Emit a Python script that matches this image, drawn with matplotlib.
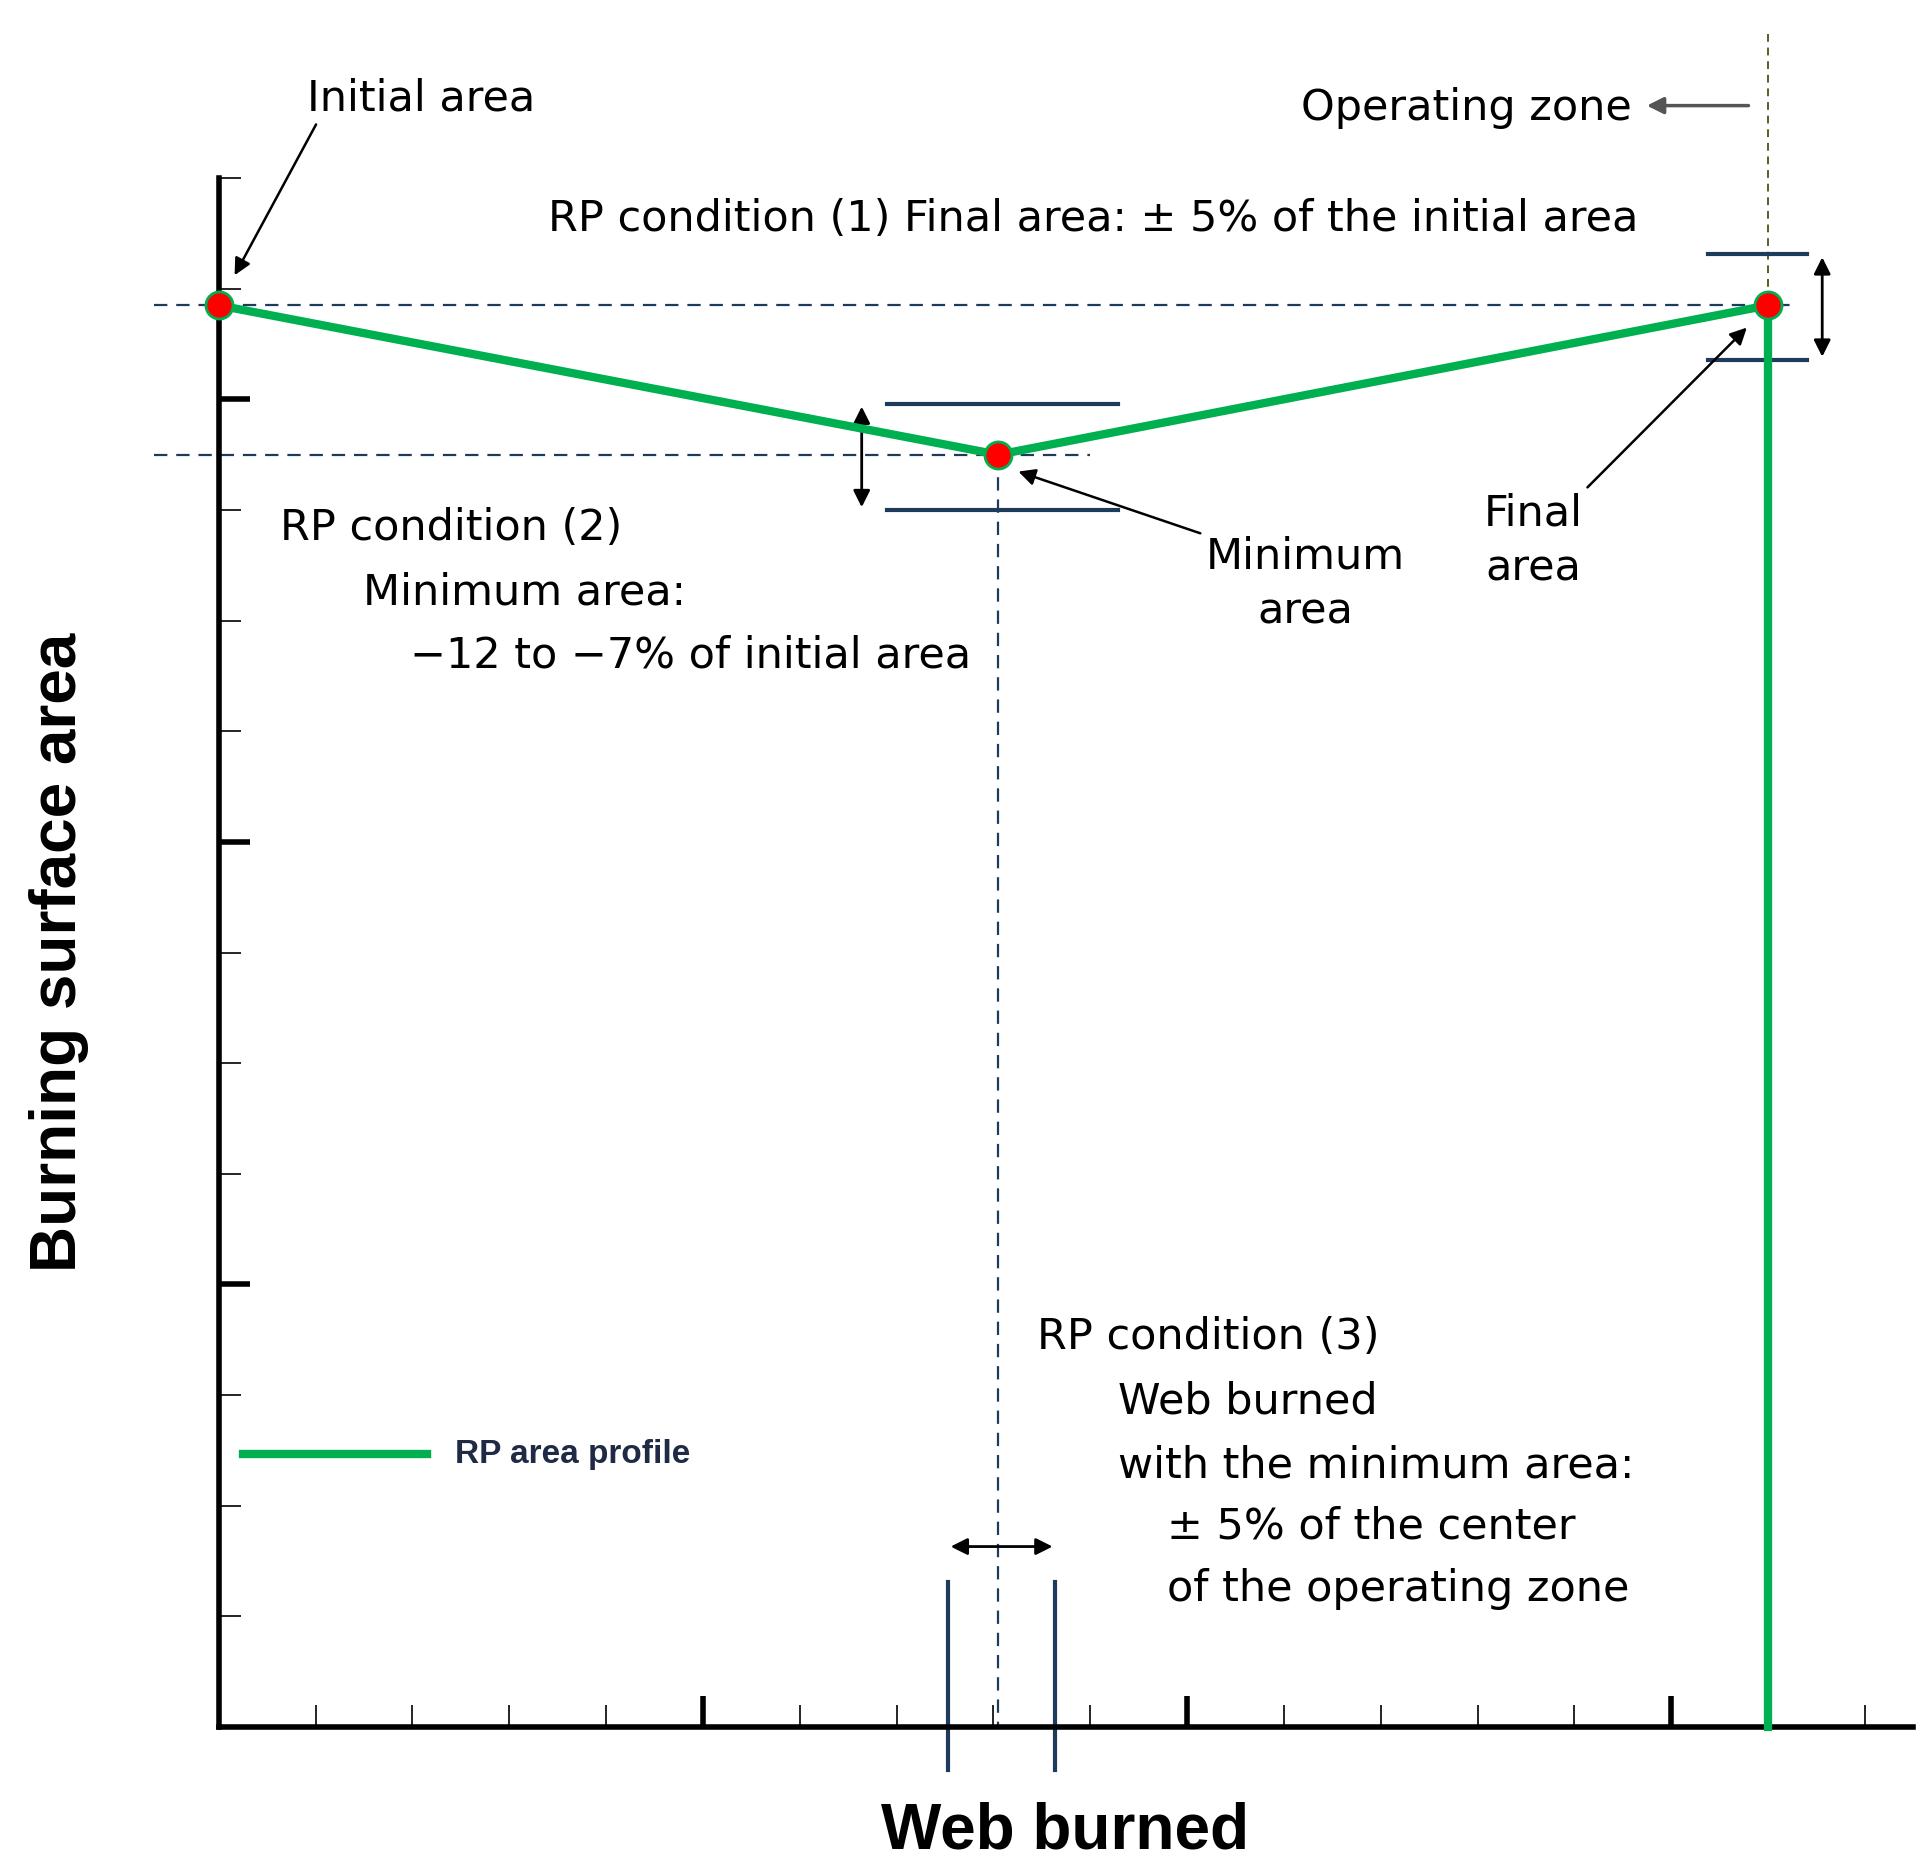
import matplotlib

matplotlib.use("Agg")
import matplotlib.pyplot as plt

# RP area profile (web burned, burning surface area)
web = [0.0, 8.05, 16.0, 16.0]
area = [12.85, 11.5, 12.85, 0.0]
point_web = web[:3]
point_area = area[:3]

NAVY = "#1f3b5c"
GREEN = "#00b050"
FONT = "DejaVu Sans"

fig = plt.figure(figsize=(19.19, 18.75), dpi=100)
ax = fig.add_axes([0.114, 0.079, 0.883, 0.826])
ax.set_xlim(0, 17.5)
ax.set_ylim(0, 14)
for s in ["top", "right"]:
    ax.spines[s].set_visible(False)
for s in ["left", "bottom"]:
    ax.spines[s].set_linewidth(4)
ax.set_xticks([5, 10, 15])
ax.set_xticks([i for i in range(1, 18) if i % 5], minor=True)
ax.set_yticks([4, 8, 12])
ax.set_yticks([i for i in range(1, 15) if i % 4], minor=True)
ax.tick_params(which="major", direction="in", length=22, width=4, labelleft=False, labelbottom=False)
ax.tick_params(which="minor", direction="in", length=16, width=1.2)


def px(x, y):
    # reference pixel (display scale) -> data coordinates
    return (x - 178) / 78.6, (1405 - y) / 90.0


kw = dict(clip_on=False)
# guide lines
ax.plot([-0.67, 16.3], [area[0]] * 2, ls=(0, (6, 4)), color=NAVY, lw=1.6, **kw)
ax.plot([-0.67, 9.0], [area[1]] * 2, ls=(0, (6, 4)), color=NAVY, lw=1.6, **kw)
ax.plot([web[1]] * 2, [area[1], 0], ls=(0, (6, 4)), color=NAVY, lw=1.6, **kw)
ax.plot([web[2]] * 2, [15.3, area[2]], ls=(0, (4, 3)), color="#4f6228", lw=1.4, **kw)

# tolerance brackets
for y in (11.96, 11.0):
    ax.plot([6.9, 9.29], [y, y], color=NAVY, lw=3, **kw)
for y in (13.31, 12.36):
    ax.plot([15.38, 16.4], [y, y], color=NAVY, lw=3, **kw)
for x in (7.53, 8.64):
    ax.plot([x, x], [1.31, -0.39], color=NAVY, lw=3, **kw)
arr = dict(arrowstyle="<|-|>", color="black", lw=2, mutation_scale=25)
ax.annotate("", xy=(6.64, 11.96), xytext=(6.64, 11.0), arrowprops=arr, annotation_clip=False)
ax.annotate("", xy=(16.56, 13.31), xytext=(16.56, 12.36), arrowprops=arr, annotation_clip=False)
ax.annotate("", xy=(7.53, 1.63), xytext=(8.64, 1.63), arrowprops=arr, annotation_clip=False)

# profile
ax.plot(web, area, color=GREEN, lw=6, zorder=5, **kw)
ax.scatter(point_web, point_area, s=380, color="red", edgecolor=GREEN, lw=2, zorder=6, clip_on=False)

# legend
ax.plot([0.25, 2.15], [2.47, 2.47], color=GREEN, lw=6)
ax.text(*px(370, 1183), "RP area profile", fontsize=24, fontweight="bold", family="Liberation Sans",
        color="#1f2a44", va="center")

fs = 31
t = dict(fontsize=fs, family=FONT, color="black")
ax.annotate("Initial area", xy=(0.15, 13.1), xytext=px(250, 80), va="center", ha="left",
            arrowprops=dict(arrowstyle="-|>", color="black", lw=1.8, mutation_scale=25,
                            relpos=(0.05, 0)), annotation_clip=False, **t)
ax.text(*px(1325, 88), "Operating zone", ha="right", va="center", **t)
ax.annotate("", xy=px(1335, 86), xytext=px(1422, 86),
            arrowprops=dict(arrowstyle="-|>", color="#555555", lw=2.5, mutation_scale=25),
            annotation_clip=False)
ax.text(*px(445, 178), "RP condition (1) Final area: \u00b1 5% of the initial area", va="center", **t)
ax.text(*px(228, 430), "RP condition (2)", va="center", **t)
ax.text(*px(295, 482), "Minimum area:", va="center", **t)
ax.text(*px(333, 533), "\u221212 to \u22127% of initial area", va="center", **t)
ax.annotate("Minimum\narea", xy=px(825, 383), xytext=px(1060, 475), ha="center", va="center",
            linespacing=1.4, arrowprops=dict(arrowstyle="-|>", color="black", lw=1.8,
                                             mutation_scale=25, relpos=(0.0, 1.0)),
            annotation_clip=False, **t)
ax.annotate("Final\narea", xy=px(1420, 265), xytext=px(1245, 440), ha="center", va="center",
            linespacing=1.4, arrowprops=dict(arrowstyle="-|>", color="black", lw=1.8,
                                             mutation_scale=25, relpos=(1.0, 1.0)),
            annotation_clip=False, **t)
for (x, y), s in zip([(842, 1088), (908, 1140), (908, 1192), (948, 1242), (948, 1293)],
                     ["RP condition (3)", "Web burned", "with the minimum area:",
                      "\u00b1 5% of the center", "of the operating zone"]):
    ax.text(*px(x, y), s, va="center", **t)

ax.text(*px(48, 775), "Burning surface area", rotation=90, ha="center", va="center",
        fontsize=46, fontweight="bold", family="Liberation Sans")
ax.text(*px(865, 1490), "Web burned", ha="center", va="center",
        fontsize=46, fontweight="bold", family="Liberation Sans")

fig.savefig("out.png", dpi=100)
